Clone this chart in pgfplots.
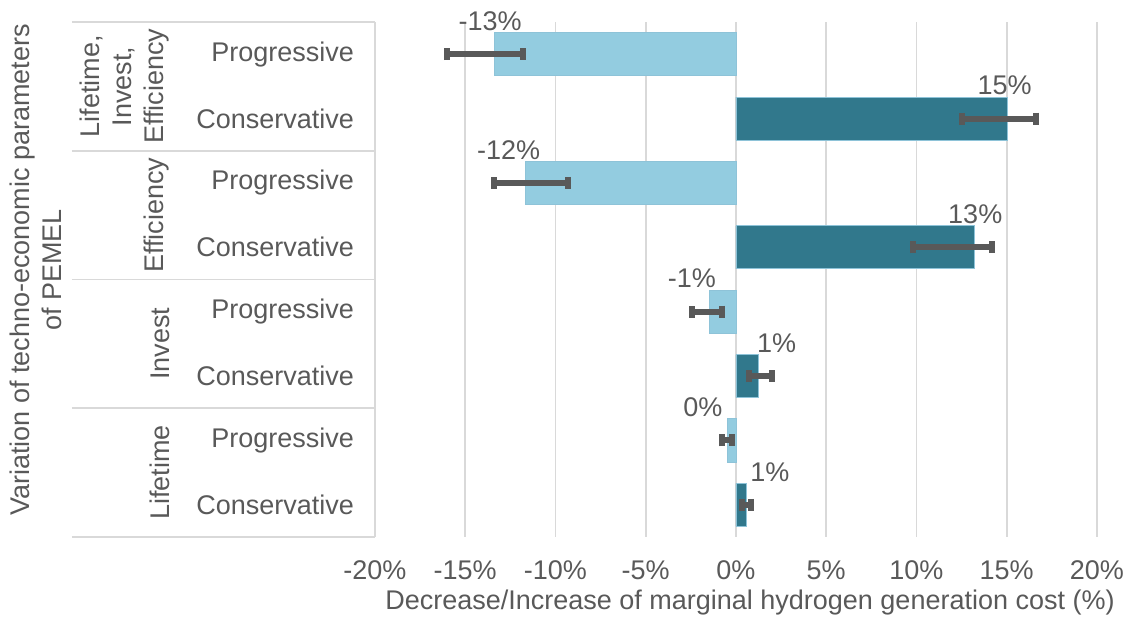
\documentclass[border=0pt]{standalone}
\usepackage{pgfplots}
\pgfplotsset{compat=1.18}
\usepackage{pgfplotstable}
\usepackage{fontspec}
\setmainfont{Liberation Sans}

\definecolor{txt}{HTML}{595959}
\definecolor{gridc}{HTML}{D9D9D9}
\definecolor{prog}{HTML}{93CCE0}
\definecolor{cons}{HTML}{31788C}
\definecolor{edge}{HTML}{8EC3D8}

% pos: row (0 = top), val: change in %, em/ep: lower/upper error, dx: label offset (pt)
\pgfplotstableread{
pos val em ep dx
0 -13.4 2.6 1.6 -2
2 -11.65 1.75 2.35 -8.5
4 -1.45 1.0 0.65 -9
6 -0.45 0.33 0.23 -12.5
}\progressive
\pgfplotstableread{
pos val em ep dx
1 15.05 2.55 1.55 -1.5
3 13.2 3.4 1.0 0.5
5 1.25 0.55 0.75 9
7 0.55 0.22 0.28 12
}\conservative

\pgfplotsset{
  errstyle/.style={
    error bars/x dir=both,
    error bars/x explicit,
    error bars/error bar style={line width=3pt, draw=txt},
    error bars/error mark options={rotate=90, line width=3pt, mark size=3pt, draw=txt},
  }
}

\begin{document}
\begin{tikzpicture}[font=\fontsize{13.5}{16}\selectfont, text=txt]
\useasboundingbox (-187.5pt,-42.5pt) rectangle (378.5pt,268.5pt);
\begin{axis}[
  at={(0,0)}, anchor=south west,
  scale only axis, width=361pt, height=257.5pt,
  xbar, bar width=0.67, bar shift=0pt,
  xmin=-20, xmax=20, ymin=-0.5, ymax=7.5, y dir=reverse,
  xtick={-20,-15,...,20},
  /pgf/number format/assume math mode=true,
  xticklabel={\pgfmathprintnumber{\tick}\%},
  xticklabel style={yshift=-8.5pt, text=txt},
  ytick={0,...,7},
  yticklabels={Progressive,Conservative,Progressive,Conservative,Progressive,Conservative,Progressive,Conservative},
  yticklabel style={xshift=-7pt, text=txt},
  axis line style={draw=none},
  major tick length=0pt,
  xmajorgrids, grid style={gridc, line width=0.8pt},
  clip=false,
  nodes near coords={\pgfmathprintnumber[fixed,precision=0]{\pgfplotspointmeta}\%},
  nodes near coords align={center},
  visualization depends on={\thisrow{dx} \as \dx},
  every node near coord/.append style={anchor=center, xshift=\dx pt, yshift=16.5pt, text=txt},
]
\addplot[fill=prog, draw=edge, errstyle] table[x=val, y=pos, x error minus=em, x error plus=ep] {\progressive};
\addplot[fill=cons, draw=edge, errstyle] table[x=val, y=pos, x error minus=em, x error plus=ep] {\conservative};
\end{axis}

% category table on the left
\foreach \yy in {0,64.375,128.75,193.125,257.5}
  \draw[gridc, line width=0.8pt] (-151.5pt,\yy pt) -- (0pt,\yy pt);
\draw[gridc, line width=0.8pt] (0pt,0pt) -- (0pt,257.5pt);

\node[rotate=90, anchor=south, align=center, inner sep=0pt] at (-102.5pt,225.31pt) {Lifetime,\\Invest,\\Efficiency};
\node[rotate=90, anchor=south, align=center, inner sep=0pt] at (-102.5pt,160.94pt) {Efficiency};
\node[rotate=90, anchor=south, align=center, inner sep=0pt] at (-102.5pt,96.56pt) {Invest};
\node[rotate=90, anchor=south, align=center, inner sep=0pt] at (-102.5pt,32.19pt) {Lifetime};

\node[rotate=90, align=center, inner sep=0pt] at (-169.5pt,133.5pt) {Variation of techno-economic parameters\\of PEMEL};
\node[inner sep=0pt] at (187.5pt,-33pt) {Decrease/Increase of marginal hydrogen generation cost (\%)};
\end{tikzpicture}
\end{document}
